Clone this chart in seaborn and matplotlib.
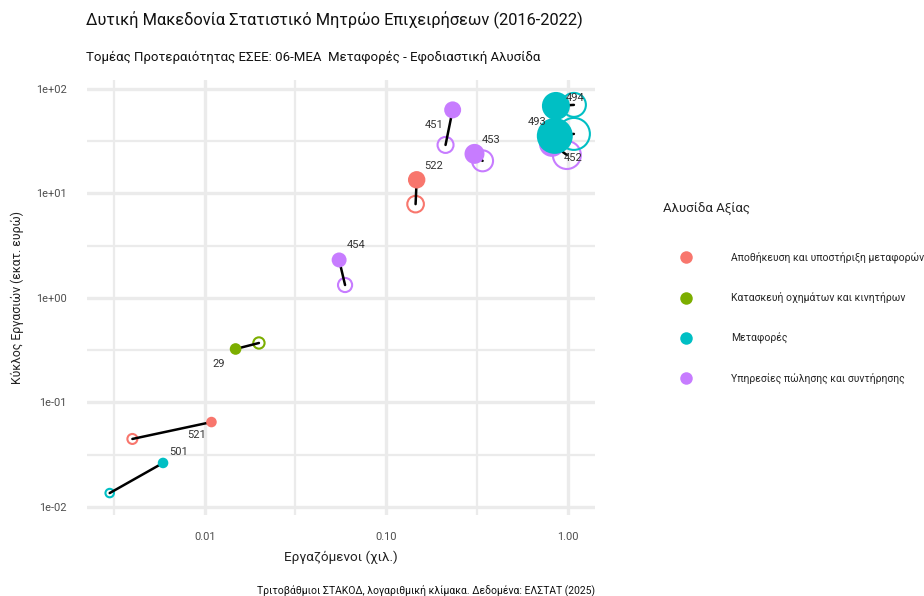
import numpy as np
import pandas as pd
import matplotlib
matplotlib.use('Agg')
import matplotlib.pyplot as plt
import seaborn as sns
from matplotlib.ticker import FixedLocator, FixedFormatter
from matplotlib.lines import Line2D

# data (open = 2016, filled = 2022)
codes = ['501', '521', '29', '454', '522', '451', '453', '494', '452', '493']
groups = ['Μεταφορές', 'Αποθήκευση και υποστήριξη μεταφορών',
          'Κατασκευή οχημάτων και κινητήρων', 'Υπηρεσίες πώλησης και συντήρησης',
          'Αποθήκευση και υποστήριξη μεταφορών', 'Υπηρεσίες πώλησης και συντήρησης',
          'Υπηρεσίες πώλησης και συντήρησης', 'Μεταφορές',
          'Υπηρεσίες πώλησης και συντήρησης', 'Μεταφορές']
emp_2016 = [0.0030, 0.0040, 0.0199, 0.0593, 0.145, 0.212, 0.339, 1.079, 0.987, 1.079]
emp_2022 = [0.0059, 0.0109, 0.0148, 0.055, 0.147, 0.232, 0.306, 0.859, 0.817, 0.847]
turn_2016 = [0.0136, 0.0448, 0.371, 1.33, 7.9, 29.1, 20.5, 70.3, 23.3, 37.1]
turn_2022 = [0.0264, 0.065, 0.325, 2.31, 13.5, 63.0, 23.9, 68.7, 29.8, 35.5]
n_2016 = [18, 25, 32, 50, 69, 64, 110, 144, 196, 256]
n_2022 = [28, 28, 34, 56, 76, 72, 100, 196, 169, 324]

hue_order = ['Αποθήκευση και υποστήριξη μεταφορών', 'Κατασκευή οχημάτων και κινητήρων',
             'Μεταφορές', 'Υπηρεσίες πώλησης και συντήρησης']
colors = ['#F8766D', '#7CAE00', '#00BFC4', '#C77CFF']
palette = dict(zip(hue_order, colors))

d16 = pd.DataFrame({'code': codes, 'group': groups, 'x': emp_2016, 'y': turn_2016, 'n': n_2016, 'year': 2016})
d22 = pd.DataFrame({'code': codes, 'group': groups, 'x': emp_2022, 'y': turn_2022, 'n': n_2022, 'year': 2022})
df = pd.concat([d16, d22], ignore_index=True)

sns.set_style('white')
plt.rcParams['font.family'] = ['Roboto', 'DejaVu Sans']

fig = plt.figure(figsize=(9.24, 5.96), dpi=100)
ax = fig.add_axes([87 / 924, 0.136, (595 - 87) / 924, 0.730])
ax.set_xscale('log')
ax.set_yscale('log')

nmin, nmax = min(n_2016 + n_2022), max(n_2016 + n_2022)
size_kw = dict(size='n', sizes=(2.07 * nmin, 2.07 * nmax), size_norm=(nmin, nmax))

# 2016: hollow circles
sns.scatterplot(data=d16, x='x', y='y', hue='group', palette=palette, legend=False,
                ax=ax, zorder=3, linewidth=0, **size_kw)
coll = ax.collections[-1]
fc = coll.get_facecolors()
coll.set_edgecolors(fc)
coll.set_facecolors('none')
coll.set_linewidth(1.5)

# segments 2016 -> 2022
sns.lineplot(data=df, x='x', y='y', units='code', estimator=None, sort=False,
             color='black', linewidth=1.8, ax=ax, zorder=4)

# 2022: filled circles
sns.scatterplot(data=d22, x='x', y='y', hue='group', palette=palette, legend=False,
                ax=ax, zorder=5, linewidth=0, **size_kw)

# labels
offsets = {'501': (11, 8), '521': (-11, -9), '29': (-12, -11), '454': (12, 11),
           '522': (12, 10), '451': (-13, -11), '453': (12, 10), '494': (14, 6),
           '493': (-13, 10), '452': (15, -10)}
for c, x, y in zip(codes, emp_2022, turn_2022):
    ax.annotate(c, (x, y), xytext=offsets[c], textcoords='offset points',
                ha='center', va='center', fontsize=8, color='#333333', zorder=6)

ax.set_xlim(0.00225, 1.41)
ax.set_ylim(0.0084, 122)
ax.xaxis.set_major_locator(FixedLocator([0.01, 0.1, 1]))
ax.xaxis.set_major_formatter(FixedFormatter(['0.01', '0.10', '1.00']))
ax.xaxis.set_minor_locator(FixedLocator(10 ** (np.arange(-3, 1) + 0.5)))
ax.yaxis.set_major_locator(FixedLocator([0.01, 0.1, 1, 10, 100]))
ax.yaxis.set_major_formatter(FixedFormatter(['1e-02', '1e-01', '1e+00', '1e+01', '1e+02']))
ax.yaxis.set_minor_locator(FixedLocator(10 ** (np.arange(-3, 2) + 0.5)))
ax.xaxis.set_minor_formatter(FixedFormatter([]))
ax.yaxis.set_minor_formatter(FixedFormatter([]))
ax.grid(True, which='major', color='#EBEBEB', linewidth=2.4)
ax.grid(True, which='minor', color='#EBEBEB', linewidth=1.6)
ax.set_axisbelow(True)
ax.tick_params(which='both', length=0, labelsize=7.9, labelcolor='#4D4D4D')
ax.tick_params(axis='x', pad=12.5)
ax.tick_params(axis='y', pad=14.5)
for s in ax.spines.values():
    s.set_visible(False)

ax.set_xlabel('Εργαζόμενοι (χιλ.)', fontsize=9.7, color='#222222', labelpad=6)
ax.set_ylabel('Κύκλος Εργασιών (εκατ. ευρώ)', fontsize=8.8, color='#222222', labelpad=9)

fig.text(86 / 924, 1 - 20 / 596, 'Δυτική Μακεδονία Στατιστικό Μητρώο Επιχειρήσεων (2016-2022)',
         fontsize=11.8, ha='left', va='center', color='#111111')
fig.text(86 / 924, 1 - 57 / 596, 'Τομέας Προτεραιότητας ΕΣΕΕ: 06-ΜΕΑ  Μεταφορές - Εφοδιαστική Αλυσίδα',
         fontsize=9.5, ha='left', va='center', color='#111111')
fig.text(595 / 924, 1 - 590 / 596, 'Τριτοβάθμιοι ΣΤΑΚΟΔ, λογαριθμική κλίμακα. Δεδομένα: ΕΛΣΤΑΤ (2025)',
         fontsize=7.5, ha='right', va='center', color='#111111')

handles = [Line2D([], [], linestyle='none', marker='o', markersize=9, markerfacecolor=c,
                  markeredgewidth=0) for c in colors]
leg = fig.legend(handles, hue_order, title='Αλυσίδα Αξίας', loc='upper left',
                 bbox_to_anchor=(659 / 924, 1 - 198 / 596), frameon=False, fontsize=7.5,
                 title_fontsize=9.5, labelspacing=2.8, handletextpad=2.1, borderaxespad=0,
                 handlelength=4.4)
leg._legend_box.align = 'left'
leg._legend_box.sep = 26

fig.savefig('out.png', dpi=100)
